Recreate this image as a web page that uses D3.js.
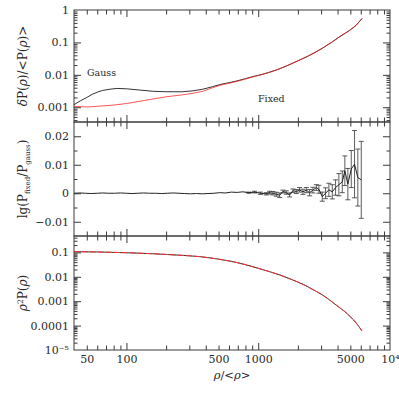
<!DOCTYPE html>
<html><head><meta charset="utf-8">
<script src="https://cdn.jsdelivr.net/npm/d3@7"></script>
<style>body{margin:0;background:#fff}svg{display:block}text{font-family:"DejaVu Serif",serif;fill:#2a2a2a}</style>
</head><body><svg id="c" width="399" height="399"></svg>
<script>
// ---------- data ----------
const rhoTop   = [40,45,50,55,60,66,75,85,100,125,160,200,265,320,380,450,510,600,690,800,900,1050,1200,1400,1650,2000,2300,2700,3100,3600,4100,4900,5500,6150];
const gaussTop = [0.0012,0.0016,0.0020,0.0025,0.0029,0.0033,0.0036,0.0038,0.0037,0.0034,0.0031,0.0030,0.0030,0.0032,0.0036,0.0043,0.0050,0.0057,0.0065,0.0076,0.0087,0.0101,0.0118,0.0145,0.019,0.027,0.035,0.049,0.068,0.10,0.145,0.23,0.33,0.55];
const fixedTop = [0.00107,0.00104,0.00102,0.00104,0.00107,0.0011,0.00114,0.0012,0.0013,0.00152,0.0018,0.0021,0.0024,0.0027,0.0031,0.0040,0.0047,0.0055,0.0063,0.0074,0.0085,0.0100,0.0117,0.0144,0.019,0.027,0.035,0.049,0.068,0.10,0.145,0.23,0.33,0.55];

const rhoMid   = [40,44,49,54,60,66,73,81,90,100,110,122,135,150,166,184,204,226,250,277,307,340,376,416,461,510,565,625,692,766,848,939,1040,1150,1220,
                  1294,1372,1455,1540,1633,1730,1834,1945,2061,2184,2317,2455,2600,2759,2886,3062,3244,3437,3648,3864,4093,4343,4543,4788,5081,5381,5700,6052];
const ratioMid = [0,0.0001,0,-0.0001,0,0.0001,0,0,0.0001,0,-0.0001,0,0.0001,0,0,-0.0001,0,0.0001,0,-0.0001,-0.0002,-0.0001,-0.0002,-0.0001,0,0.0002,0.0001,0.0004,0.0003,0.0005,0.0002,0.0004,0,-0.0002,0.0002,
                  0,-0.00035,-0.0007,0.0006,0.00025,-0.0006,0.0009,0.0006,0.0012,0.0005,0.0011,0.0002,0.0011,0.002,0.0014,-0.0012,0,0.0012,0.0005,0.002,0.003,0.004,0.0079,0.0032,0.0085,0.0102,0.0055,0.0047];
const errMid   = [0,0,0,0,0,0,0,0,0,0,0,0,0,0,0,0,0,0,0,0,0,0,0,0,0,0,0,0,0,0,0.0002,0.0003,0.0004,0.0004,0.0005,
                  0.0006,0.0007,0.0008,0.0005,0.0006,0.0007,0.0006,0.0007,0.0008,0.0009,0.0009,0.0011,0.001,0.001,0.0014,0.0016,0.0019,0.0023,0.0025,0.0027,0.0039,0.0038,0.0052,0.0055,0.0065,0.0118,0.010,0.0135];

const rhoBot   = [40,60,100,160,250,360,500,610,800,1000,1250,1455,1700,2000,2300,2600,3000,3500,3950,4500,5000,5500,6110];
const gaussBot = [0.107,0.104,0.097,0.088,0.077,0.067,0.053,0.044,0.0315,0.0223,0.0156,0.0119,0.0087,0.0061,0.0043,0.0030,0.00195,0.0011,0.00066,0.00039,0.000232,0.000134,0.000062];
const fixedBot = [0.107,0.104,0.097,0.088,0.077,0.067,0.053,0.044,0.0315,0.0223,0.0156,0.0119,0.0087,0.0061,0.0043,0.0030,0.00195,0.0011,0.00066,0.00039,0.000232,0.000134,0.000062];

const xTickLabels = [50,100,500,1000,5000,10000];
const topYLabels  = [0.001,0.01,0.1,1];
const midYLabels  = [-0.01,0,0.01,0.02];
const botYLabels  = [0.00001,0.0001,0.001,0.01,0.1];

// ---------- layout ----------
const svg = d3.select("#c");
const L = 74, R = 390;
const panels = {top:[10,122], mid:[122,236], bot:[236,350]};
const x = d3.scaleLog().domain([40,10000]).range([L,R]);
const yTop = d3.scaleLog().domain([3.5e-4,1]).range(panels.top.slice().reverse());
const yMid = d3.scaleLinear().domain([-0.015,0.025]).range(panels.mid.slice().reverse());
const yBot = d3.scaleLog().domain([1e-5,0.47]).range(panels.bot.slice().reverse());

const AX = "#3a3a3a";
const isDecade = v => Math.abs(Math.log10(v) - Math.round(Math.log10(v))) < 1e-9;
const xt = x.ticks().filter(v => v > 40 && v < 10000);
const xMaj = xt.filter(isDecade), xMin = xt.filter(v => !isDecade(v));

function styleAxis(g){ g.select(".domain").remove(); g.selectAll("line").attr("stroke",AX).attr("stroke-width",1); g.selectAll("text").remove(); }

function xTicks(y0,y1){
  [[xMaj,7],[xMin,4.5]].forEach(([vals,len])=>{
    svg.append("g").attr("transform",`translate(0,${y1})`).call(d3.axisBottom(x).tickValues(vals).tickSize(-len)).call(styleAxis);
    svg.append("g").attr("transform",`translate(0,${y0})`).call(d3.axisTop(x).tickValues(vals).tickSize(-len)).call(styleAxis);
  });
}
function yTicks(scale, maj, min){
  [[maj,7],[min,3.5]].forEach(([vals,len])=>{
    svg.append("g").attr("transform",`translate(${L},0)`).call(d3.axisLeft(scale).tickValues(vals).tickSize(-len)).call(styleAxis);
    svg.append("g").attr("transform",`translate(${R},0)`).call(d3.axisRight(scale).tickValues(vals).tickSize(-len)).call(styleAxis);
  });
}
function yLabels(scale, vals, fmt){
  const g = svg.append("g").attr("transform",`translate(${L},0)`)
    .call(d3.axisLeft(scale).tickValues(vals).tickSize(0).tickPadding(5).tickFormat(fmt));
  g.select(".domain").remove();
  g.selectAll("text").attr("font-family","DejaVu Serif").attr("font-size",11).attr("fill","#2a2a2a");
}

// ticks
Object.values(panels).forEach(([a,b])=>xTicks(a,b));
const ytT = yTop.ticks().filter(v=>v>3.5e-4 && v<1);
yTicks(yTop, ytT.filter(isDecade), ytT.filter(v=>!isDecade(v)));
const ymT = d3.range(-3,6).map(i=>i*0.005).filter(v=>v>-0.015&&v<0.025);
yTicks(yMid, ymT.filter(v=>Math.abs(Math.round(v*100)-v*100)<1e-9), ymT.filter(v=>Math.abs(Math.round(v*100)-v*100)>=1e-9));
const ybT = yBot.ticks().filter(v=>v>1e-5 && v<0.47);
yTicks(yBot, ybT.filter(isDecade), ybT.filter(v=>!isDecade(v)));

// tick labels
yLabels(yTop, topYLabels, d=>String(d));
yLabels(yMid, midYLabels, d=>d===0?"0":(d<0?"\u2212"+String(-d):String(d)));
yLabels(yBot, botYLabels, d=>d===1e-5?"10\u207B\u2075":String(d));
const gx = svg.append("g").attr("transform",`translate(0,${panels.bot[1]})`)
  .call(d3.axisBottom(x).tickValues(xTickLabels).tickSize(0).tickPadding(5).tickFormat(d=>d===10000?"10\u2074":String(d)));
gx.select(".domain").remove();
gx.selectAll("text").attr("font-family","DejaVu Serif").attr("font-size",11).attr("fill","#2a2a2a");

// frames
Object.values(panels).forEach(([a,b])=>{
  svg.append("rect").attr("x",L).attr("y",a).attr("width",R-L).attr("height",b-a)
    .attr("fill","none").attr("stroke",AX).attr("stroke-width",1);
});

// ---------- marks ----------
const lineTop = (arr)=>d3.line().x((d,i)=>x(rhoTop[i])).y(d=>yTop(d))(arr);
svg.append("path").attr("d",lineTop(gaussTop)).attr("fill","none").attr("stroke","#333").attr("stroke-width",1);
svg.append("path").attr("d",lineTop(fixedTop)).attr("fill","none").attr("stroke","#ff2020").attr("stroke-width",0.9).attr("opacity",0.85);

// middle: ratio with error bars
const gm = svg.append("g").attr("stroke","#333").attr("stroke-width",0.8);
rhoMid.forEach((r,i)=>{
  const e = errMid[i]; if(!e) return;
  const xx = x(r), ya = yMid(ratioMid[i]-e), yb = yMid(ratioMid[i]+e);
  gm.append("line").attr("x1",xx).attr("x2",xx).attr("y1",ya).attr("y2",yb);
  gm.append("line").attr("x1",xx-2.5).attr("x2",xx+2.5).attr("y1",ya).attr("y2",ya);
  gm.append("line").attr("x1",xx-2.5).attr("x2",xx+2.5).attr("y1",yb).attr("y2",yb);
});
svg.append("path").attr("d",d3.line().x((d,i)=>x(rhoMid[i])).y(d=>yMid(d))(ratioMid))
  .attr("fill","none").attr("stroke","#222").attr("stroke-width",1);

// bottom
const lineBot = (arr)=>d3.line().x((d,i)=>x(rhoBot[i])).y(d=>yBot(d)).curve(d3.curveMonotoneX)(arr);
svg.append("path").attr("d",lineBot(gaussBot)).attr("fill","none").attr("stroke","#333").attr("stroke-width",1);
svg.append("path").attr("d",lineBot(fixedBot)).attr("fill","none").attr("stroke","#ff3030").attr("stroke-width",1).attr("stroke-dasharray","6,2");

// ---------- text ----------
svg.append("text").attr("x",87).attr("y",76).attr("font-size",9.5).text("Gauss");
svg.append("text").attr("x",258).attr("y",102).attr("font-size",9.5).text("Fixed");

const xl = svg.append("text").attr("x",232).attr("y",379).attr("text-anchor","middle").attr("font-size",11.5);
xl.append("tspan").attr("font-style","italic").text("\u03C1");
xl.append("tspan").text("/<");
xl.append("tspan").attr("font-style","italic").text("\u03C1");
xl.append("tspan").text(">");

function yTitle(cy, build){
  const t = svg.append("text").attr("transform",`translate(27,${cy}) rotate(-90)`).attr("text-anchor","middle").attr("font-size",12);
  build(t);
}
yTitle(66, t=>{
  t.append("tspan").attr("font-style","italic").text("\u03B4");
  t.append("tspan").text("P(");
  t.append("tspan").attr("font-style","italic").text("\u03C1");
  t.append("tspan").text(")/<P(");
  t.append("tspan").attr("font-style","italic").text("\u03C1");
  t.append("tspan").text(")>");
});
yTitle(179, t=>{
  t.append("tspan").text("lg(P");
  t.append("tspan").attr("font-size",7).attr("dy",2.5).text("fixed");
  t.append("tspan").attr("dy",-2.5).text("/P");
  t.append("tspan").attr("font-size",7).attr("dy",2.5).text("gauss");
  t.append("tspan").attr("dy",-2.5).text(")");
});
yTitle(293, t=>{
  t.append("tspan").attr("font-style","italic").text("\u03C1");
  t.append("tspan").attr("font-size",7.5).attr("dy",-4).text("2");
  t.append("tspan").attr("dy",4).text("P(");
  t.append("tspan").attr("font-style","italic").text("\u03C1");
  t.append("tspan").text(")");
});
</script></body></html>
